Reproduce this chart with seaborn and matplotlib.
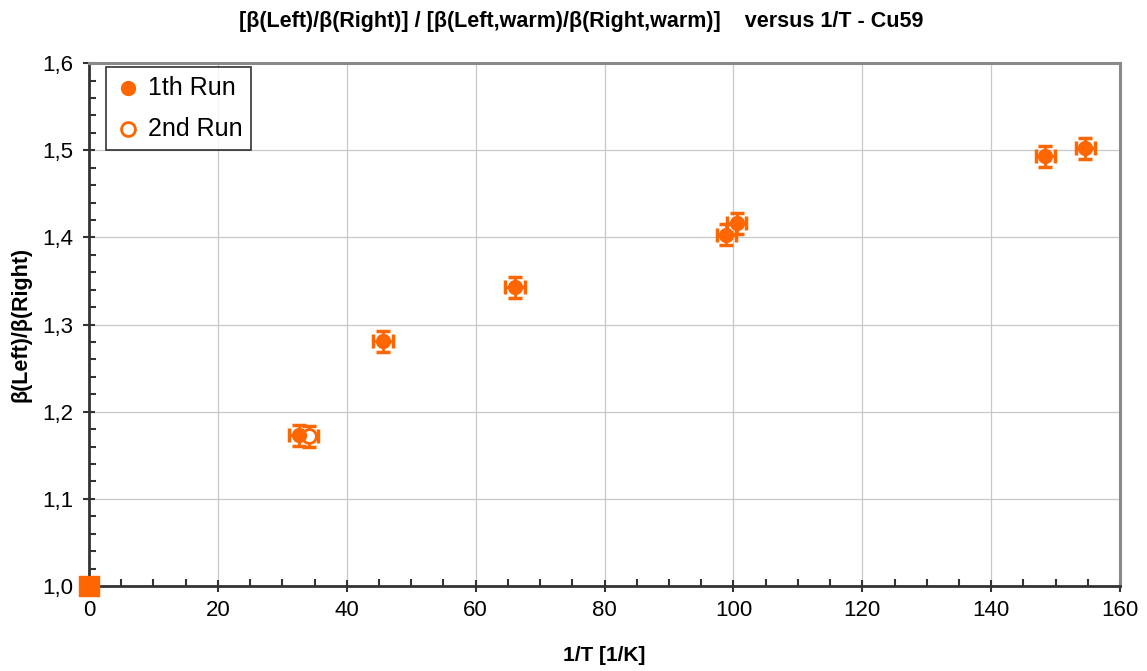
import numpy as np
import pandas as pd
import matplotlib
matplotlib.use("Agg")
import matplotlib.pyplot as plt
import seaborn as sns
from matplotlib.ticker import MultipleLocator, FuncFormatter

# data
run1_x = [32.6, 45.6, 66.1, 98.9, 100.5, 148.4, 154.6]
run1_y = [1.173, 1.281, 1.343, 1.403, 1.416, 1.493, 1.502]
run2_x = [34.1]
run2_y = [1.172]
ref_x = [0.0]
ref_y = [1.0]
x_err = 1.5
y_err = 0.012

orange = '#FF6600'

sns.set_style("white")
plt.rcParams['font.family'] = ['Liberation Sans', 'DejaVu Sans']
plt.rcParams['text.color'] = 'black'
plt.rcParams['axes.labelcolor'] = 'black'

fig, ax = plt.subplots(figsize=(11.47, 6.71), dpi=100)
fig.subplots_adjust(left=0.0776, right=0.9765, top=0.906, bottom=0.1267)

df1 = pd.DataFrame({'x': run1_x, 'y': run1_y})
df2 = pd.DataFrame({'x': run2_x, 'y': run2_y})

# error bars
ax.errorbar(run1_x, run1_y, xerr=x_err, yerr=y_err, fmt='none', ecolor=orange,
            elinewidth=2, capsize=5, capthick=2.5, zorder=3)
ax.errorbar(run2_x, run2_y, xerr=x_err, yerr=y_err, fmt='none', ecolor=orange,
            elinewidth=2, capsize=5, capthick=2.5, zorder=3)

sns.scatterplot(data=df2, x='x', y='y', ax=ax, marker='o', s=100, color='white',
                edgecolor=orange, linewidth=2, label='2nd Run', zorder=4)
sns.scatterplot(data=df1, x='x', y='y', ax=ax, marker='o', s=100, color=orange,
                edgecolor=orange, linewidth=1, label='1th Run', zorder=5)
ax.scatter(ref_x, ref_y, marker='s', s=200, color=orange, zorder=6, clip_on=False)

ax.set_xlim(0, 160)
ax.set_ylim(1.0, 1.6)
ax.xaxis.set_major_locator(MultipleLocator(20))
ax.xaxis.set_minor_locator(MultipleLocator(5))
ax.yaxis.set_major_locator(MultipleLocator(0.1))
ax.yaxis.set_minor_locator(MultipleLocator(0.02))
ax.yaxis.set_major_formatter(FuncFormatter(lambda v, p: f"{v:.1f}".replace('.', ',')))
ax.xaxis.set_major_formatter(FuncFormatter(lambda v, p: f"{v:.0f}"))

ax.grid(True, which='major', color='#c8c8c8', linewidth=0.9)
ax.tick_params(which='major', direction='inout', length=8, width=1.5, colors='#333333',
               labelsize=16, labelcolor='black', bottom=True, left=True)
ax.tick_params(axis='y', which='major', pad=7)
ax.tick_params(axis='x', which='major', pad=6)
ax.tick_params(which='minor', direction='in', length=5, width=1.5, colors='#333333',
               bottom=True, left=True)

for side in ['left', 'bottom']:
    ax.spines[side].set_color('#333333')
    ax.spines[side].set_linewidth(2)
for side in ['top', 'right']:
    ax.spines[side].set_color('#8a8a8a')
    ax.spines[side].set_linewidth(2.2)

ax.set_xlabel('1/T [1/K]', fontsize=15, fontweight='bold', labelpad=18)
ax.set_ylabel('β(Left)/β(Right)', fontsize=15.5, fontweight='bold', labelpad=8)
fig.suptitle('[β(Left)/β(Right)] / [β(Left,warm)/β(Right,warm)]    versus 1/T - Cu59',
             fontsize=15.5, fontweight='bold', x=0.507, y=0.983)

handles, labels = ax.get_legend_handles_labels()
order = [labels.index('1th Run'), labels.index('2nd Run')]
leg = ax.legend([handles[i] for i in order], [labels[i] for i in order],
                loc='upper left', fontsize=18, frameon=True, fancybox=False,
                edgecolor='black', borderpad=0.36, handletextpad=0.3,
                markerscale=1.0, labelspacing=0.68, handlelength=1.0,
                borderaxespad=0, bbox_to_anchor=(0.0165, 0.993))
leg.get_frame().set_linewidth(1.2)

plt.savefig('out.png', dpi=100)
